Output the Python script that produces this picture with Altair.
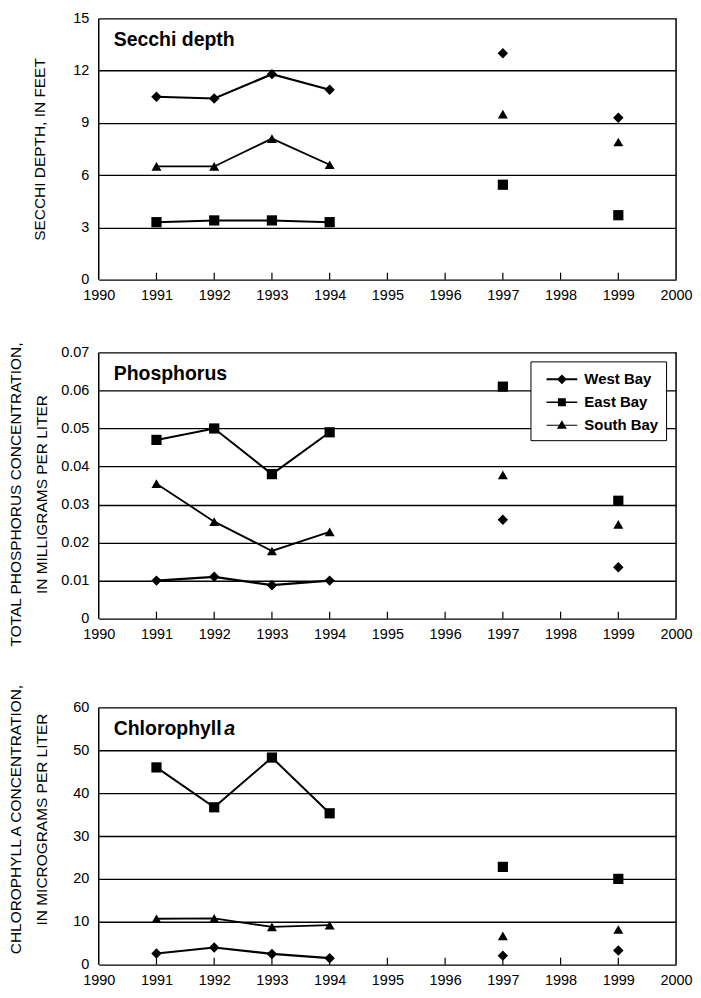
import altair as alt
import pandas as pd

# ---------------- data ----------------
YEARS = [1991, 1992, 1993, 1994, 1997, 1999]
SERIES = ["West Bay", "East Bay", "South Bay"]
LAST_CONNECTED_YEAR = 1994
X_TICKS = [1990, 1991, 1992, 1993, 1994, 1995, 1996, 1997, 1998, 1999, 2000]
INNER_TICKS = [1991, 1992, 1993, 1994, 1995, 1996, 1997, 1998, 1999]

secchi_west = [10.5, 10.4, 11.8, 10.9, 13.0, 9.3]
secchi_east = [3.3, 3.4, 3.4, 3.3, 5.45, 3.7]
secchi_south = [6.5, 6.5, 8.1, 6.6, 9.5, 7.9]
SECCHI_TICKS = [0, 3, 6, 9, 12, 15]

phos_west = [0.010, 0.011, 0.0088, 0.010, 0.026, 0.0135]
phos_east = [0.047, 0.050, 0.038, 0.049, 0.061, 0.031]
phos_south = [0.0355, 0.0255, 0.0178, 0.0228, 0.0378, 0.0248]
PHOS_TICKS = [0, 0.01, 0.02, 0.03, 0.04, 0.05, 0.06, 0.07]

chl_west = [2.6, 4.0, 2.5, 1.5, 2.1, 3.3]
chl_east = [46.0, 36.7, 48.3, 35.3, 22.8, 20.0]
chl_south = [10.7, 10.8, 8.8, 9.2, 6.7, 8.2]
CHL_TICKS = [0, 10, 20, 30, 40, 50, 60]

# ---------------- style ----------------
FONT = "Liberation Sans, Arial, sans-serif"
SHAPES = ["diamond", "square", "triangle-up"]
SIZES = [110, 100, 125]
WIDTHS = [2.2, 1.8, 1.0]
# legend glyphs: a thin bar (the line) plus the marker, drawn as filled paths
LEGEND_PATHS = [
    "M-1.4,-0.09L1.4,-0.09L1.4,0.09L-1.4,0.09Z M-0.45,0L0,-0.45L0.45,0L0,0.45Z",
    "M-1.4,-0.07L1.4,-0.07L1.4,0.07L-1.4,0.07Z M-0.36,-0.36L0.36,-0.36L0.36,0.36L-0.36,0.36Z",
    "M-1.4,-0.045L1.4,-0.045L1.4,0.045L-1.4,0.045Z M0,-0.45L0.45,0.32L-0.45,0.32Z",
]
W = 579


def make_panel(vals, ticks, ymax, ytitle, heading, plot_h, top_gap, label_expr,
               title_x, title_y, legend=False, italic_suffix=None):
    height = plot_h + top_gap
    rows = [
        {"year": yr, "series": s, "value": v}
        for s, arr in zip(SERIES, vals)
        for yr, v in zip(YEARS, arr)
    ]
    df = pd.DataFrame(rows)
    base = alt.Chart(df)
    x = alt.X(
        "year:Q",
        scale=alt.Scale(domain=[1990, 2000], nice=False, zero=False),
        axis=alt.Axis(values=X_TICKS, format="d", title=None, grid=False,
                      ticks=False, tickSize=0, domain=False, labelPadding=9,
                      labelFont=FONT, labelFontSize=14.5, labelColor="black",
                      labelFlush=False, labelOverlap=False),
    )
    y = alt.Y(
        "value:Q",
        scale=alt.Scale(domain=[0, ymax], nice=False, zero=True,
                        range=[height, top_gap]),
        axis=alt.Axis(values=ticks, title=ytitle, labelExpr=label_expr,
                      grid=True, gridColor="black", gridOpacity=1, gridWidth=1.3,
                      ticks=False, tickSize=0, domain=False, labelPadding=10,
                      labelFont=FONT, labelFontSize=14.5, labelColor="black",
                      titleFont=FONT, titleFontSize=15.5, titleFontWeight="normal",
                      titleColor="black", titleLineHeight=26,
                      titleX=title_x, titleY=title_y),
    )
    lines = base.transform_filter(
        alt.datum.year <= LAST_CONNECTED_YEAR
    ).mark_line(color="black").encode(
        x=x, y=y, detail="series:N",
        strokeWidth=alt.StrokeWidth("series:N", scale=alt.Scale(domain=SERIES, range=WIDTHS), legend=None),
    )
    points = base.mark_point(filled=True, color="black", opacity=1).encode(
        x=x, y=y,
        shape=alt.Shape("series:N", scale=alt.Scale(domain=SERIES, range=SHAPES), legend=None),
        size=alt.Size("series:N", scale=alt.Scale(domain=SERIES, range=SIZES), legend=None),
    )
    inner = alt.Chart(pd.DataFrame({"year": INNER_TICKS})).mark_rule(
        color="black", strokeWidth=1.2
    ).encode(x=x, y=alt.value(height), y2=alt.value(height - 7))
    frame_l = alt.Chart(alt.Data(values=[{"e": "left"}])).mark_rule(
        color="black", strokeWidth=1.5
    ).encode(x=alt.value(0), y=alt.value(top_gap), y2=alt.value(height))
    frame_r = alt.Chart(alt.Data(values=[{"e": "right"}])).mark_rule(
        color="black", strokeWidth=1.5
    ).encode(x=alt.value(W), y=alt.value(top_gap), y2=alt.value(height))
    head = alt.Chart(alt.Data(values=[{"t": heading}])).mark_text(
        align="left", baseline="alphabetic", font=FONT, fontSize=19.5,
        fontWeight="bold", color="black"
    ).encode(text="t:N", x=alt.value(15), y=alt.value(top_gap + 28))
    layers = [frame_l, frame_r, inner, lines, points, head]
    if italic_suffix is not None:
        ital = alt.Chart(alt.Data(values=[{"t": italic_suffix}])).mark_text(
            align="left", baseline="alphabetic", font=FONT, fontSize=19.5,
            fontWeight="bold", fontStyle="italic", color="black"
        ).encode(text="t:N", x=alt.value(126), y=alt.value(top_gap + 28))
        layers.append(ital)
    if legend:
        leg = alt.Chart(pd.DataFrame({"series": SERIES})).mark_point(
            filled=True, color="black", opacity=0
        ).encode(
            x=alt.value(W / 2), y=alt.value(height / 2),
            shape=alt.Shape(
                "series:N",
                scale=alt.Scale(domain=SERIES, range=LEGEND_PATHS),
                legend=alt.Legend(
                    title=None, orient="none", legendX=W - 146, legendY=top_gap + 9,
                    direction="vertical", strokeColor="black", fillColor="white",
                    padding=7, symbolOffset=13.5, labelOffset=11.5,
                    labelFont=FONT, labelFontSize=15, labelFontWeight="bold",
                    labelColor="black", labelExpr="datum.label + '  '",
                    symbolSize=484, symbolStrokeWidth=0,
                    symbolFillColor="black", symbolOpacity=1,
                    rowPadding=4, labelLimit=300,
                ),
            )
        )
        layers.append(leg)
    return alt.layer(*layers).resolve_scale(shape="independent").properties(
        width=W, height=height
    )


p1 = make_panel([secchi_west, secchi_east, secchi_south], SECCHI_TICKS, 15,
                "SECCHI DEPTH, IN FEET", "Secchi depth", 262, 0,
                "format(datum.value, 'd')", -51, 131)
p2 = make_panel([phos_west, phos_east, phos_south], PHOS_TICKS, 0.07,
                ["TOTAL PHOSPHORUS CONCENTRATION,", "IN MILLIGRAMS PER LITER"],
                "Phosphorus", 267, 0,
                "datum.value == 0 ? '0' : format(datum.value, '.2f')", -75, 142,
                legend=True)
p3 = make_panel([chl_west, chl_east, chl_south], CHL_TICKS, 60,
                ["CHLOROPHYLL A CONCENTRATION,", "IN MICROGRAMS PER LITER"],
                "Chlorophyll ", 258, 16, "format(datum.value, 'd')", -75, 16 + 112,
                italic_suffix="a")

chart = alt.vconcat(p1, p2, p3, spacing=73, bounds="flush").resolve_scale(
    shape="independent", size="independent", strokeWidth="independent"
).properties(
    padding={"left": 0, "top": 1, "right": 0, "bottom": 0},
    background="white",
).configure_view(
    stroke="transparent", strokeWidth=0
)

chart.save("out.html", embed_options={"renderer": "svg", "actions": False})
